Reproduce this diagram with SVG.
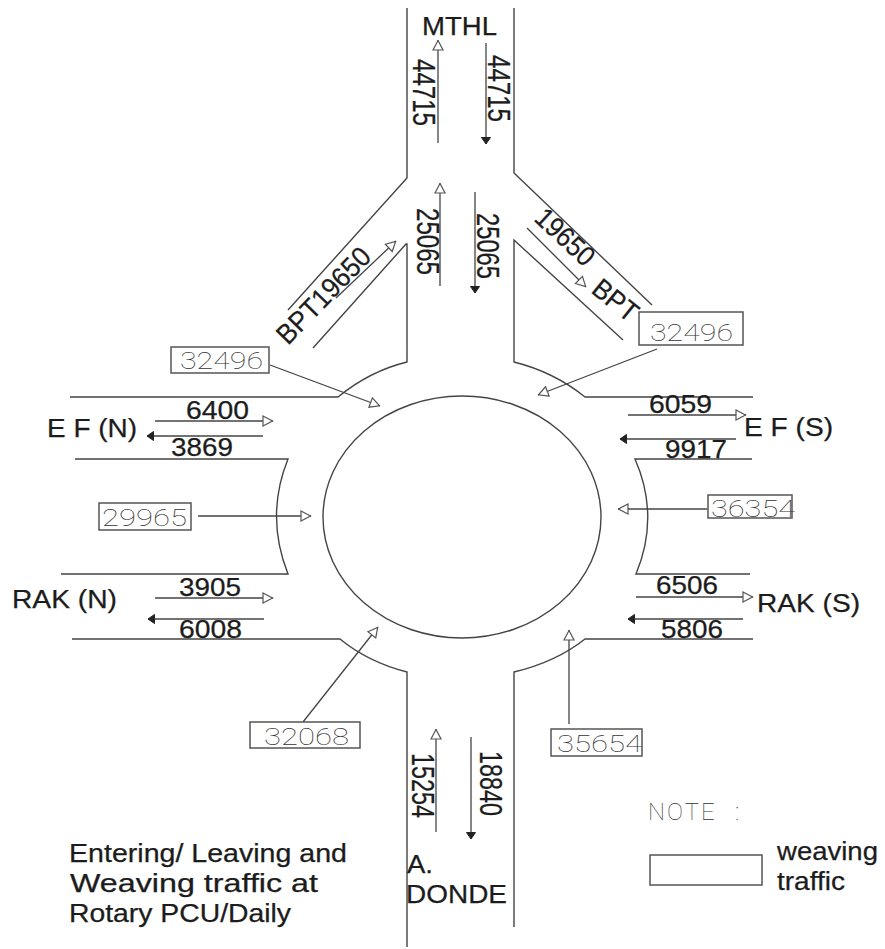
<svg xmlns="http://www.w3.org/2000/svg" width="885" height="949" viewBox="0 0 885 949">
<style>
.road{fill:none;stroke:#444;stroke-width:1.4}
.arr{fill:none;stroke:#444;stroke-width:1.3}
.o{marker-end:url(#open)}
.s{marker-end:url(#solid)}
.box{fill:#fff;stroke:#555;stroke-width:1.5}
text{font-family:"Liberation Sans",Arial,sans-serif;fill:#1c1c1c;font-size:25px;stroke:#1c1c1c;stroke-width:.25}
.n{font-family:"Roboto","Liberation Sans",sans-serif;font-weight:100;fill:#333;font-size:24px;stroke:none}
.v{font-size:31px}
.d{font-size:28px}
</style>
<defs>
<marker id="open" viewBox="0 0 12 12" refX="11.5" refY="6" markerWidth="12" markerHeight="12" markerUnits="userSpaceOnUse" orient="auto"><path d="M1.5 1 L11 6 L1.5 11 Z" fill="#fff" stroke="#555" stroke-width="1.2"/></marker>
<marker id="solid" viewBox="0 0 10 10" refX="9.5" refY="5" markerWidth="10" markerHeight="10" markerUnits="userSpaceOnUse" orient="auto"><path d="M3 .5 L9.5 5 L3 9.5 Z" fill="#222" stroke="#222" stroke-width="1"/></marker>
</defs>
<rect width="885" height="949" fill="#fff"/>
<g id="roads">
<path class="road" d="M407 8V178L288 310"/>
<path class="road" d="M514 8V173L652 305"/>
<path class="road" d="M313 348L406 244H407V362Q370 371 338 397H70"/>
<path class="road" d="M623 340L514 240V362Q554 372 585 397H753"/>
<path class="road" d="M75 459H288Q265 516 288 574H61"/>
<path class="road" d="M752 459H635Q660 516 636 574H750"/>
<path class="road" d="M72 639H340Q368 662 407 672V947"/>
<path class="road" d="M753 639H585Q556 662 514 672V927"/>
</g>
<ellipse id="rotary" cx="462" cy="517" rx="139" ry="121" fill="none" stroke="#444" stroke-width="1.4"/>
<g id="connectors">
<path class="arr o" d="M438 143V40"/>
<path class="arr s" d="M486 43V144"/>
<path class="arr o" d="M440 286V183"/>
<path class="arr s" d="M475 192V293"/>
<path class="arr o" d="M336 298L396 241"/>
<path class="arr o" d="M527 228L586 287"/>
<path class="arr o" d="M270 365L380 406"/>
<path class="arr o" d="M657 349L538 395"/>
<path class="arr o" d="M198 516H311"/>
<path class="arr o" d="M707 509H618"/>
<path class="arr o" d="M303 722L378 627"/>
<path class="arr o" d="M569 724V630"/>
<path class="arr o" d="M155 421H273"/>
<path class="arr s" d="M263 436H147"/>
<path class="arr o" d="M155 598H273"/>
<path class="arr s" d="M264 619H148"/>
<path class="arr o" d="M628 415H746"/>
<path class="arr s" d="M736 439H620"/>
<path class="arr o" d="M636 597H753"/>
<path class="arr s" d="M743 619H628"/>
<path class="arr o" d="M436 832V729"/>
<path class="arr s" d="M471 737V839"/>
</g>
<g id="node-mthl"><text x="422" y="35" textLength="75" lengthAdjust="spacingAndGlyphs">MTHL</text></g>
<g id="flow-mthl-out"><text class="v" transform="translate(413 59) rotate(90)" textLength="67" lengthAdjust="spacingAndGlyphs">44715</text></g>
<g id="flow-mthl-in"><text class="v" transform="translate(488 55) rotate(90)" textLength="67" lengthAdjust="spacingAndGlyphs">44715</text></g>
<g id="flow-rotary-out"><text class="v" transform="translate(417 208) rotate(90)" textLength="67" lengthAdjust="spacingAndGlyphs">25065</text></g>
<g id="flow-rotary-in"><text class="v" transform="translate(477 213) rotate(90)" textLength="66" lengthAdjust="spacingAndGlyphs">25065</text></g>
<g id="flow-donde-out"><text class="v" transform="translate(412 753) rotate(90)" textLength="65" lengthAdjust="spacingAndGlyphs">15254</text></g>
<g id="flow-donde-in"><text class="v" transform="translate(480 751) rotate(90)" textLength="65" lengthAdjust="spacingAndGlyphs">18840</text></g>
<g id="node-bpt-n"><text class="d" transform="translate(288 346) rotate(-46)" textLength="122" lengthAdjust="spacingAndGlyphs">BPT19650</text></g>
<g id="flow-bpt-s"><text class="d" transform="translate(533 220) rotate(43)" textLength="70" lengthAdjust="spacingAndGlyphs">19650</text></g>
<g id="node-bpt-s"><text class="d" transform="translate(590 292) rotate(39)" textLength="50" lengthAdjust="spacingAndGlyphs">BPT</text></g>
<g id="node-ef-n"><text x="47" y="437" textLength="90" lengthAdjust="spacingAndGlyphs">E F (N)</text></g>
<g id="node-rak-n"><text x="12" y="608" textLength="105" lengthAdjust="spacingAndGlyphs">RAK (N)</text></g>
<g id="node-ef-s"><text x="744" y="436" textLength="89" lengthAdjust="spacingAndGlyphs">E F (S)</text></g>
<g id="node-rak-s"><text x="757" y="612" textLength="103" lengthAdjust="spacingAndGlyphs">RAK (S)</text></g>
<g id="flow-6400"><text x="186" y="419" textLength="63" lengthAdjust="spacingAndGlyphs">6400</text></g>
<g id="flow-3869"><text x="171" y="456" textLength="62" lengthAdjust="spacingAndGlyphs">3869</text></g>
<g id="flow-3905"><text x="179" y="596" textLength="62" lengthAdjust="spacingAndGlyphs">3905</text></g>
<g id="flow-6008"><text x="179" y="638" textLength="63" lengthAdjust="spacingAndGlyphs">6008</text></g>
<g id="flow-6059"><text x="649" y="413" textLength="63" lengthAdjust="spacingAndGlyphs">6059</text></g>
<g id="flow-9917"><text x="665" y="458" textLength="62" lengthAdjust="spacingAndGlyphs">9917</text></g>
<g id="flow-6506"><text x="656" y="594" textLength="62" lengthAdjust="spacingAndGlyphs">6506</text></g>
<g id="flow-5806"><text x="661" y="638" textLength="62" lengthAdjust="spacingAndGlyphs">5806</text></g>
<g id="weave-nw"><rect class="box" x="171" y="347" width="98" height="26"/><text class="n" x="180" y="369" textLength="83" lengthAdjust="spacingAndGlyphs">32496</text></g>
<g id="weave-ne"><rect class="box" x="639" y="312" width="104" height="33"/><text class="n" x="650" y="341" textLength="83" lengthAdjust="spacingAndGlyphs">32496</text></g>
<g id="weave-w"><rect class="box" x="99" y="503" width="92" height="27"/><text class="n" x="102" y="526" textLength="85" lengthAdjust="spacingAndGlyphs">29965</text></g>
<g id="weave-e"><rect class="box" x="708" y="495" width="84" height="23"/><text class="n" x="711" y="517" textLength="84" lengthAdjust="spacingAndGlyphs">36354</text></g>
<g id="weave-sw"><rect class="box" x="250" y="722" width="110" height="26"/><text class="n" x="264" y="745" textLength="85" lengthAdjust="spacingAndGlyphs">32068</text></g>
<g id="weave-se"><rect class="box" x="551" y="729" width="91" height="27"/><text class="n" x="557" y="752" textLength="85" lengthAdjust="spacingAndGlyphs">35654</text></g>
<g id="node-donde"><text x="407" y="873" textLength="26" lengthAdjust="spacingAndGlyphs">A.</text><text x="406" y="903" textLength="101" lengthAdjust="spacingAndGlyphs">DONDE</text></g>
<g id="legend"><text class="n" x="648" y="820" letter-spacing="2">NOTE <tspan x="735">:</tspan></text><rect class="box" x="650" y="855" width="112" height="30"/><text x="777" y="860" textLength="101" lengthAdjust="spacingAndGlyphs">weaving</text><text x="777" y="890" textLength="68" lengthAdjust="spacingAndGlyphs">traffic</text></g>
<g id="caption"><text x="69" y="862" textLength="278" lengthAdjust="spacingAndGlyphs">Entering/ Leaving and</text><text x="70" y="892" textLength="248" lengthAdjust="spacingAndGlyphs">Weaving traffic at</text><text x="69" y="922" textLength="222" lengthAdjust="spacingAndGlyphs">Rotary PCU/Daily</text></g>
</svg>
